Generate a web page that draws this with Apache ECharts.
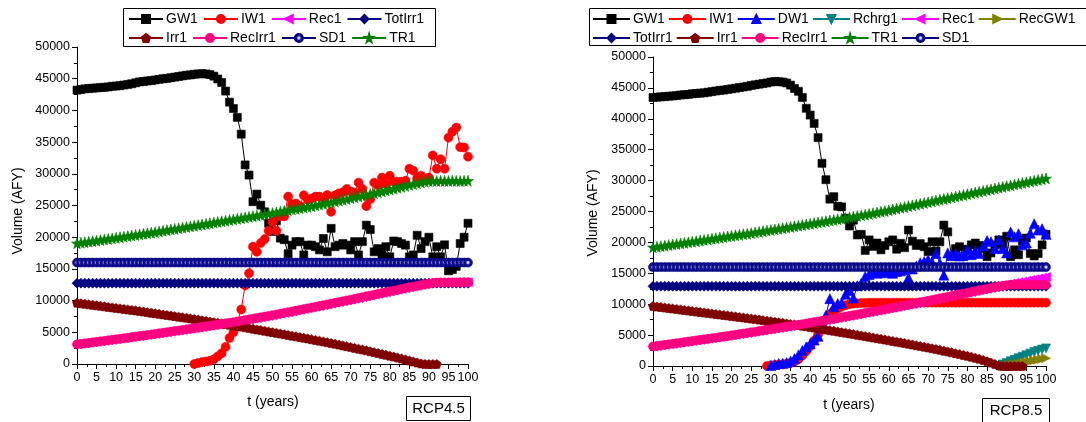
<!DOCTYPE html>
<html>
<head>
<meta charset="utf-8">
<script src="https://cdn.jsdelivr.net/npm/echarts@6/dist/echarts.min.js"></script>
<style>
  html, body { margin: 0; padding: 0; background: #fff; }
  #chart { width: 1086px; height: 422px; }
</style>
</head>
<body>
<div id="chart"></div>
<script>
// Simulation years 0..100 (one value per year, null = no value that year)
const years = Array.from({ length: 101 }, (_, i) => i);

// ---------- RCP4.5 scenario ----------
const gw1L = [43200,43300,43400,43450,43500,43550,43600,43650,43700,43800,
  43850,43900,44000,44100,44200,44350,44500,44550,44650,44700,
  44800,44900,45000,45050,45150,45250,45350,45450,45550,45600,
  45700,45750,45800,45750,45650,45400,44950,44400,43050,41300,
  40300,38900,36250,31400,29800,25600,26800,25050,24000,22200,
  20900,22600,19850,19600,17400,18750,19300,19300,17200,18750,
  18750,18500,18000,19800,17700,21400,18500,18750,19000,18750,
  18000,19300,17200,19300,21900,21200,17700,18200,17200,18500,
  16900,19400,19300,19000,18750,16900,17200,20300,18200,19300,
  20000,16900,18500,16900,18800,14700,14900,15400,19000,20000,22200];
const iw1L = [null,null,null,null,null,null,null,null,null,null,
  null,null,null,null,null,null,null,null,null,null,
  null,null,null,null,null,null,null,null,null,null,
  0,150,300,400,500,750,1200,1700,2700,4100,
  5000,6600,8600,12400,14300,18500,17700,19100,19700,21000,
  22400,21000,23300,23300,26400,25200,25300,24900,26600,25900,
  26100,26400,26400,26200,26650,24000,26600,26900,27100,27600,
  27200,27000,28600,27600,24900,26000,28600,28200,29400,28400,
  29700,28750,28750,28750,28900,30800,30500,29300,29700,29100,
  29400,32900,30800,32300,30800,35700,36650,37300,34200,34150,32700];
const rec1L = [3100,3180,3260,3340,3420,3500,3580,3660,3740,3820,
  3900,3985,4070,4155,4240,4325,4410,4495,4580,4665,
  4750,4840,4930,5020,5110,5200,5290,5380,5470,5560,
  5650,5745,5840,5935,6030,6125,6220,6315,6410,6505,
  6600,6710,6820,6930,7040,7150,7260,7370,7480,7590,
  7700,7820,7940,8060,8180,8300,8420,8540,8660,8780,
  8900,9025,9150,9275,9400,9525,9650,9775,9900,10025,
  10150,10280,10410,10540,10670,10800,10930,11060,11190,11320,
  11450,11580,11710,11840,11970,12090,12210,12330,12450,12570,
  12680,12780,12850,12860,12860,12870,12870,12870,12880,12880,12880];
const totIrr1L = [12750,12750,12750,12750,12750,12750,12750,12750,12750,12750,
  12750,12750,12750,12750,12750,12750,12750,12750,12750,12750,
  12750,12750,12750,12750,12750,12750,12750,12750,12750,12750,
  12750,12750,12750,12750,12750,12750,12750,12750,12750,12750,
  12750,12750,12750,12750,12750,12750,12750,12750,12750,12750,
  12750,12750,12750,12750,12750,12750,12750,12750,12750,12750,
  12750,12750,12750,12750,12750,12750,12750,12750,12750,12750,
  12750,12750,12750,12750,12750,12750,12750,12750,12750,12750,
  12750,12750,12750,12750,12750,12750,12750,12750,12750,12750,
  12750,12750,12750,12750,12750,12750,12750,12750,12750,12750,12750];
const irr1L = [9650,9570,9490,9410,9330,9250,9170,9090,9010,8930,
  8850,8770,8690,8610,8530,8450,8360,8270,8180,8090,
  8000,7910,7820,7730,7640,7550,7460,7370,7280,7190,
  7100,7000,6900,6800,6700,6600,6500,6400,6300,6200,
  6100,6000,5900,5790,5680,5570,5460,5350,5240,5130,
  5020,4910,4800,4690,4580,4470,4360,4250,4140,4030,
  3910,3790,3670,3550,3430,3310,3190,3060,2930,2800,
  2670,2540,2410,2280,2150,2010,1870,1730,1590,1450,
  1310,1170,1020,870,720,560,400,240,80,0,
  0,0,0,null,null,null,null,null,null,null,null];
const recIrr1L = [3100,3180,3260,3340,3420,3500,3580,3660,3740,3820,
  3900,3985,4070,4155,4240,4325,4410,4495,4580,4665,
  4750,4840,4930,5020,5110,5200,5290,5380,5470,5560,
  5650,5745,5840,5935,6030,6125,6220,6315,6410,6505,
  6600,6710,6820,6930,7040,7150,7260,7370,7480,7590,
  7700,7820,7940,8060,8180,8300,8420,8540,8660,8780,
  8900,9025,9150,9275,9400,9525,9650,9775,9900,10025,
  10150,10280,10410,10540,10670,10800,10930,11060,11190,11320,
  11450,11580,11710,11840,11970,12090,12210,12330,12450,12570,
  12680,12780,12850,12860,12860,12870,12870,12870,12880,12880,12880];
const sd1L = [16000,16000,16000,16000,16000,16000,16000,16000,16000,16000,
  16000,16000,16000,16000,16000,16000,16000,16000,16000,16000,
  16000,16000,16000,16000,16000,16000,16000,16000,16000,16000,
  16000,16000,16000,16000,16000,16000,16000,16000,16000,16000,
  16000,16000,16000,16000,16000,16000,16000,16000,16000,16000,
  16000,16000,16000,16000,16000,16000,16000,16000,16000,16000,
  16000,16000,16000,16000,16000,16000,16000,16000,16000,16000,
  16000,16000,16000,16000,16000,16000,16000,16000,16000,16000,
  16000,16000,16000,16000,16000,16000,16000,16000,16000,16000,
  16000,16000,16000,16000,16000,16000,16000,16000,16000,16000,16000];
const tr1L = [19050,19130,19210,19290,19370,19450,19540,19630,19720,19810,
  19900,19990,20080,20170,20260,20350,20440,20530,20620,20710,
  20800,20900,21000,21100,21200,21300,21400,21500,21600,21700,
  21800,21900,22000,22100,22200,22300,22400,22500,22600,22700,
  22800,22900,23000,23100,23200,23300,23400,23500,23600,23700,
  23800,23910,24020,24130,24240,24350,24460,24570,24680,24790,
  24900,25020,25140,25260,25380,25500,25630,25760,25890,26020,
  26150,26280,26410,26540,26670,26800,26940,27080,27220,27360,
  27500,27650,27800,27950,28100,28250,28380,28510,28640,28760,
  28850,28880,28850,28900,28870,28850,28900,28880,28850,28900,28900];

// ---------- RCP8.5 scenario ----------
const gw1R = [43450,43500,43550,43600,43650,43700,43750,43850,43900,43950,
  44050,44100,44150,44200,44300,44400,44500,44600,44650,44750,
  44850,44950,45050,45150,45250,45400,45500,45600,45700,45800,
  45950,46050,46000,45950,45800,45450,44900,44450,43450,41700,
  40600,39250,36950,32800,30150,27000,27400,25850,25750,23900,
  22650,23600,21200,21300,18700,20400,19350,19900,18800,19500,
  20100,20400,18900,19850,19150,22000,20200,19500,19800,19300,
  18500,20100,18600,20100,22800,21700,17700,19000,19300,17700,
  18900,19600,19900,19500,19000,17700,18300,19600,20400,19700,
  21000,17700,18800,18000,20200,20700,18200,17800,18200,19600,21300];
const iw1R = [null,null,null,null,null,null,null,null,null,null,
  null,null,null,null,null,null,null,null,null,null,
  null,null,null,null,null,null,null,null,null,0,
  100,150,200,250,350,500,700,1100,1700,2400,
  3200,4100,5100,6300,7500,8400,8900,9300,9600,9850,
  10000,10100,10150,10200,10200,10220,10230,10240,10250,10250,
  10250,10250,10250,10250,10250,10250,10250,10250,10250,10250,
  10250,10250,10250,10250,10250,10250,10250,10250,10250,10250,
  10250,10250,10250,10250,10250,10250,10250,10250,10250,10250,
  10250,10250,10250,10250,10250,10250,10250,10250,10250,10250,10250];
const dw1R = [null,null,null,null,null,null,null,null,null,null,
  null,null,null,null,null,null,null,null,null,null,
  null,null,null,null,null,null,null,null,null,null,
  100,250,400,450,550,800,1200,1800,2500,3100,
  3600,4200,4800,6300,8200,10900,9600,10100,10200,11600,
  12200,11000,13000,13400,14500,14800,15200,15000,15300,15100,
  15200,15000,15300,15400,15600,14300,15700,16200,16700,16900,
  17200,16800,18200,16600,14700,18300,17900,18100,17800,18000,
  18800,18000,18700,18200,19400,20300,20100,19000,20400,19000,
  18300,21700,20900,21400,19600,19900,21500,23000,22000,22200,21300];
const rchrg1R = [null,null,null,null,null,null,null,null,null,null,
  null,null,null,null,null,null,null,null,null,null,
  null,null,null,null,null,null,null,null,null,null,
  null,null,null,null,null,null,null,null,null,null,
  null,null,null,null,null,null,null,null,null,null,
  null,null,null,null,null,null,null,null,null,null,
  null,null,null,null,null,null,null,null,null,null,
  null,null,null,null,null,null,null,null,null,null,
  null,null,null,null,null,null,null,null,0,250,
  500,750,1000,1250,1500,1750,2000,2250,2450,2650,2850];
const rec1R = [3150,3240,3330,3420,3510,3600,3690,3780,3870,3960,
  4050,4140,4230,4320,4410,4500,4590,4680,4770,4860,
  4960,5060,5160,5260,5360,5460,5560,5660,5760,5860,
  5960,6060,6160,6260,6360,6460,6560,6660,6770,6880,
  6990,7100,7210,7320,7430,7540,7655,7770,7885,8000,
  8115,8230,8350,8470,8590,8710,8830,8950,9070,9190,
  9310,9430,9550,9670,9790,9910,10040,10170,10300,10430,
  10560,10690,10820,10950,11080,11210,11340,11470,11600,11730,
  11860,11990,12120,12250,12380,12500,12620,12740,12860,12980,
  13180,13340,13460,13550,13660,13800,13910,14050,14160,14300,14400];
const recGW1R = [null,null,null,null,null,null,null,null,null,null,
  null,null,null,null,null,null,null,null,null,null,
  null,null,null,null,null,null,null,null,null,null,
  null,null,null,null,null,null,null,null,null,null,
  null,null,null,null,null,null,null,null,null,null,
  null,null,null,null,null,null,null,null,null,null,
  null,null,null,null,null,null,null,null,null,null,
  null,null,null,null,null,null,null,null,null,null,
  null,null,null,null,null,null,null,null,null,0,
  100,200,300,400,500,650,750,900,1000,1150,1250];
const totIrr1R = [12900,12900,12900,12900,12900,12900,12900,12900,12900,12900,
  12900,12900,12900,12900,12900,12900,12900,12900,12900,12900,
  12900,12900,12900,12900,12900,12900,12900,12900,12900,12900,
  12900,12900,12900,12900,12900,12900,12900,12900,12900,12900,
  12900,12900,12900,12900,12900,12900,12900,12900,12900,12900,
  12900,12900,12900,12900,12900,12900,12900,12900,12900,12900,
  12900,12900,12900,12900,12900,12900,12900,12900,12900,12900,
  12900,12900,12900,12900,12900,12900,12900,12900,12900,12900,
  12900,12900,12900,12900,12900,12900,12900,12900,12900,12900,
  12900,12900,12900,12900,12900,12900,12900,12900,12900,12900,12900];
const irr1R = [9700,9620,9540,9460,9380,9300,9220,9140,9060,8980,
  8900,8820,8740,8660,8580,8500,8420,8340,8260,8180,
  8100,8015,7930,7845,7760,7675,7590,7505,7420,7335,
  7250,7160,7070,6980,6890,6800,6710,6620,6520,6420,
  6320,6215,6110,6005,5900,5795,5690,5585,5480,5375,
  5270,5160,5050,4940,4830,4720,4610,4500,4390,4280,
  4170,4055,3940,3825,3710,3595,3475,3355,3235,3115,
  2990,2865,2740,2610,2480,2350,2210,2070,1930,1790,
  1640,1490,1330,1160,980,780,560,320,100,0,
  0,0,0,0,0,null,null,null,null,null,null];
const recIrr1R = [3150,3240,3330,3420,3510,3600,3690,3780,3870,3960,
  4050,4140,4230,4320,4410,4500,4590,4680,4770,4860,
  4960,5060,5160,5260,5360,5460,5560,5660,5760,5860,
  5960,6060,6160,6260,6360,6460,6560,6660,6770,6880,
  6990,7100,7210,7320,7430,7540,7655,7770,7885,8000,
  8115,8230,8350,8470,8590,8710,8830,8950,9070,9190,
  9310,9430,9550,9670,9790,9910,10040,10170,10300,10430,
  10560,10690,10820,10950,11080,11210,11340,11470,11600,11730,
  11860,11990,12120,12250,12380,12500,12620,12740,12860,12980,
  13080,13140,13160,13150,13160,13150,13160,13150,13160,13150,13150];
const tr1R = [19200,19290,19380,19470,19560,19650,19740,19830,19920,20010,
  20100,20195,20290,20385,20480,20575,20670,20765,20860,20955,
  21050,21140,21230,21320,21410,21500,21600,21700,21800,21900,
  22000,22100,22200,22300,22400,22500,22600,22700,22800,22900,
  23000,23105,23210,23315,23420,23525,23630,23735,23840,23945,
  24050,24160,24270,24380,24490,24600,24720,24840,24960,25080,
  25200,25330,25460,25590,25720,25850,25980,26110,26240,26370,
  26500,26630,26760,26890,27020,27150,27280,27410,27540,27670,
  27800,27930,28060,28190,28320,28450,28580,28710,28840,28970,
  29100,29225,29350,29475,29600,29725,29850,29975,30100,30225,30350];
const sd1R = [16000,16000,16000,16000,16000,16000,16000,16000,16000,16000,
  16000,16000,16000,16000,16000,16000,16000,16000,16000,16000,
  16000,16000,16000,16000,16000,16000,16000,16000,16000,16000,
  16000,16000,16000,16000,16000,16000,16000,16000,16000,16000,
  16000,16000,16000,16000,16000,16000,16000,16000,16000,16000,
  16000,16000,16000,16000,16000,16000,16000,16000,16000,16000,
  16000,16000,16000,16000,16000,16000,16000,16000,16000,16000,
  16000,16000,16000,16000,16000,16000,16000,16000,16000,16000,
  16000,16000,16000,16000,16000,16000,16000,16000,16000,16000,
  16000,16000,16000,16000,16000,16000,16000,16000,16000,16000,16000];

// Axis ticks
const yTicks = { min: 0, max: 50000, interval: 5000 };
const xTicks = { min: 0, max: 100, interval: 5 };

// Marker shapes
const SYM = {
  square: 'rect',
  circle: 'circle',
  up: 'triangle',
  down: 'path://M0,0 L100,0 L50,100 Z',
  left: 'path://M0,50 L100,0 L100,100 Z',
  right: 'path://M100,50 L0,0 L0,100 Z',
  diamond: 'diamond',
  pentagon: 'path://M50,0 L100,38 L81,100 L19,100 L0,38 Z',
  star: 'path://M50,0 L61,35 L98,35 L68,57 L79,91 L50,70 L21,91 L32,57 L2,35 L39,35 Z'
};
// shaded ball used for the SD1 markers
const sphere = {
  type: 'radial', x: 0.5, y: 0.5, r: 0.5,
  colorStops: [
    { offset: 0, color: '#f4f4ff' },
    { offset: 0.22, color: '#b8b8e8' },
    { offset: 0.45, color: '#1a1a98' },
    { offset: 1, color: '#000080' }
  ]
};

function pairs(arr) {
  return years.map((t, i) => [t, arr[i]]);
}

function line(name, arr, grid, color, symbol, size, lineColor) {
  const solid = typeof color === 'string' ? color : '#000080';
  return {
    name: name,
    type: 'line',
    xAxisIndex: grid,
    yAxisIndex: grid,
    data: pairs(arr),
    symbol: symbol,
    symbolSize: size,
    showAllSymbol: true,
    connectNulls: false,
    clip: false,
    itemStyle: { color: color, borderColor: solid, borderWidth: 0.6, opacity: 1 },
    lineStyle: { color: lineColor || solid, width: 1 },
    emphasis: { disabled: true }
  };
}

const FONT = 'Liberation Sans, Arial, sans-serif';

function axis(type, grid, ticks) {
  return {
    type: 'value', gridIndex: grid,
    min: ticks.min, max: ticks.max, interval: ticks.interval,
    axisLine: { show: true, onZero: false, lineStyle: { color: '#000', width: 1 } },
    axisTick: { show: true, length: 5, lineStyle: { color: '#000' } },
    minorTick: { show: true, splitNumber: 2, length: 3, lineStyle: { color: '#000' } },
    splitLine: { show: false },
    axisLabel: {
      color: '#000', fontSize: 12.5, fontFamily: FONT, margin: 7,
      formatter: v => String(v)
    }
  };
}

function legend(names, left, top, itemWidth, gap) {
  return {
    data: names, left: left, top: top, orient: 'horizontal',
    itemWidth: itemWidth, itemHeight: 10, itemGap: gap, padding: 0,
    selectedMode: false,
    textStyle: { color: '#000', fontSize: 14, fontFamily: FONT, padding: [0, 0, 0, -2] }
  };
}

const seriesL = [
  line('GW1', gw1L, 0, '#000000', SYM.square, 8),
  line('IW1', iw1L, 0, '#ff0000', SYM.circle, 9),
  line('Rec1', rec1L, 0, '#ff00ff', SYM.left, 9),
  line('TotIrr1', totIrr1L, 0, '#000080', SYM.diamond, 10),
  line('Irr1', irr1L, 0, '#800000', SYM.pentagon, 9),
  line('RecIrr1', recIrr1L, 0, '#ff0080', SYM.circle, 9),
  line('SD1', sd1L, 0, sphere, SYM.circle, 9, '#000080'),
  line('TR1', tr1L, 0, '#008000', SYM.star, 11)
];
const seriesR = [
  line('GW1', gw1R, 1, '#000000', SYM.square, 8),
  line('IW1', iw1R, 1, '#ff0000', SYM.circle, 9),
  line('DW1', dw1R, 1, '#0000ff', SYM.up, 10),
  line('Rchrg1', rchrg1R, 1, '#008080', SYM.down, 9),
  line('Rec1', rec1R, 1, '#ff00ff', SYM.left, 9),
  line('RecGW1', recGW1R, 1, '#808000', SYM.right, 9),
  line('TotIrr1', totIrr1R, 1, '#000080', SYM.diamond, 10, '#7070c0'),
  line('Irr1', irr1R, 1, '#800000', SYM.pentagon, 9, '#b07070'),
  line('RecIrr1', recIrr1R, 1, '#ff0080', SYM.circle, 9, '#ff80c0'),
  line('TR1', tr1R, 1, '#008000', SYM.star, 11, '#60b060'),
  line('SD1', sd1R, 1, sphere, SYM.circle, 9, '#6060d0')
];

const chart = echarts.init(document.getElementById('chart'), null, { renderer: 'canvas' });
chart.setOption({
  animation: false,
  backgroundColor: '#ffffff',
  textStyle: { fontFamily: FONT },
  grid: [
    { left: 77, top: 47, width: 391, height: 317 },
    { left: 653, top: 57, width: 393, height: 309 }
  ],
  xAxis: [axis('x', 0, xTicks), axis('x', 1, xTicks)],
  yAxis: [axis('y', 0, yTicks), axis('y', 1, yTicks)],
  legend: [
    legend(['GW1', 'IW1', 'Rec1', 'TotIrr1'], 128, 12, 34, 5),
    legend(['Irr1', 'RecIrr1', 'SD1', 'TR1'], 128, 31, 34, 5),
    legend(['GW1', 'IW1', 'DW1', 'Rchrg1', 'Rec1', 'RecGW1'], 592, 12, 37, 3),
    legend(['TotIrr1', 'Irr1', 'RecIrr1', 'TR1', 'SD1'], 592, 31, 37, 3)
  ],
  series: seriesL.concat(seriesR),
  graphic: [
    { type: 'rect', shape: { x: 123.5, y: 8.5, width: 312, height: 38 }, style: { fill: 'none', stroke: '#000', lineWidth: 1 }, silent: true },
    { type: 'rect', shape: { x: 589.5, y: 8.5, width: 510, height: 37 }, style: { fill: 'none', stroke: '#000', lineWidth: 1 }, silent: true },
    { type: 'text', x: 18, y: 211, rotation: Math.PI / 2, style: { text: 'Volume (AFY)', fill: '#000', font: '14px ' + FONT, textAlign: 'center', textVerticalAlign: 'middle' } },
    { type: 'text', x: 593, y: 213, rotation: Math.PI / 2, style: { text: 'Volume (AFY)', fill: '#000', font: '14px ' + FONT, textAlign: 'center', textVerticalAlign: 'middle' } },
    { type: 'text', x: 273, y: 402, style: { text: 't (years)', fill: '#000', font: '14px ' + FONT, textAlign: 'center', textVerticalAlign: 'middle' } },
    { type: 'text', x: 849, y: 405, style: { text: 't (years)', fill: '#000', font: '14px ' + FONT, textAlign: 'center', textVerticalAlign: 'middle' } },
    { type: 'rect', shape: { x: 406.5, y: 396.5, width: 64, height: 24 }, style: { fill: '#fff', stroke: '#000', lineWidth: 1 }, silent: true },
    { type: 'text', x: 438.5, y: 409, style: { text: 'RCP4.5', fill: '#000', font: '15px ' + FONT, textAlign: 'center', textVerticalAlign: 'middle' } },
    { type: 'rect', shape: { x: 982.5, y: 398.5, width: 67, height: 30 }, style: { fill: '#fff', stroke: '#000', lineWidth: 1 }, silent: true },
    { type: 'text', x: 1016, y: 411, style: { text: 'RCP8.5', fill: '#000', font: '15px ' + FONT, textAlign: 'center', textVerticalAlign: 'middle' } }
  ]
});
</script>
</body>
</html>
